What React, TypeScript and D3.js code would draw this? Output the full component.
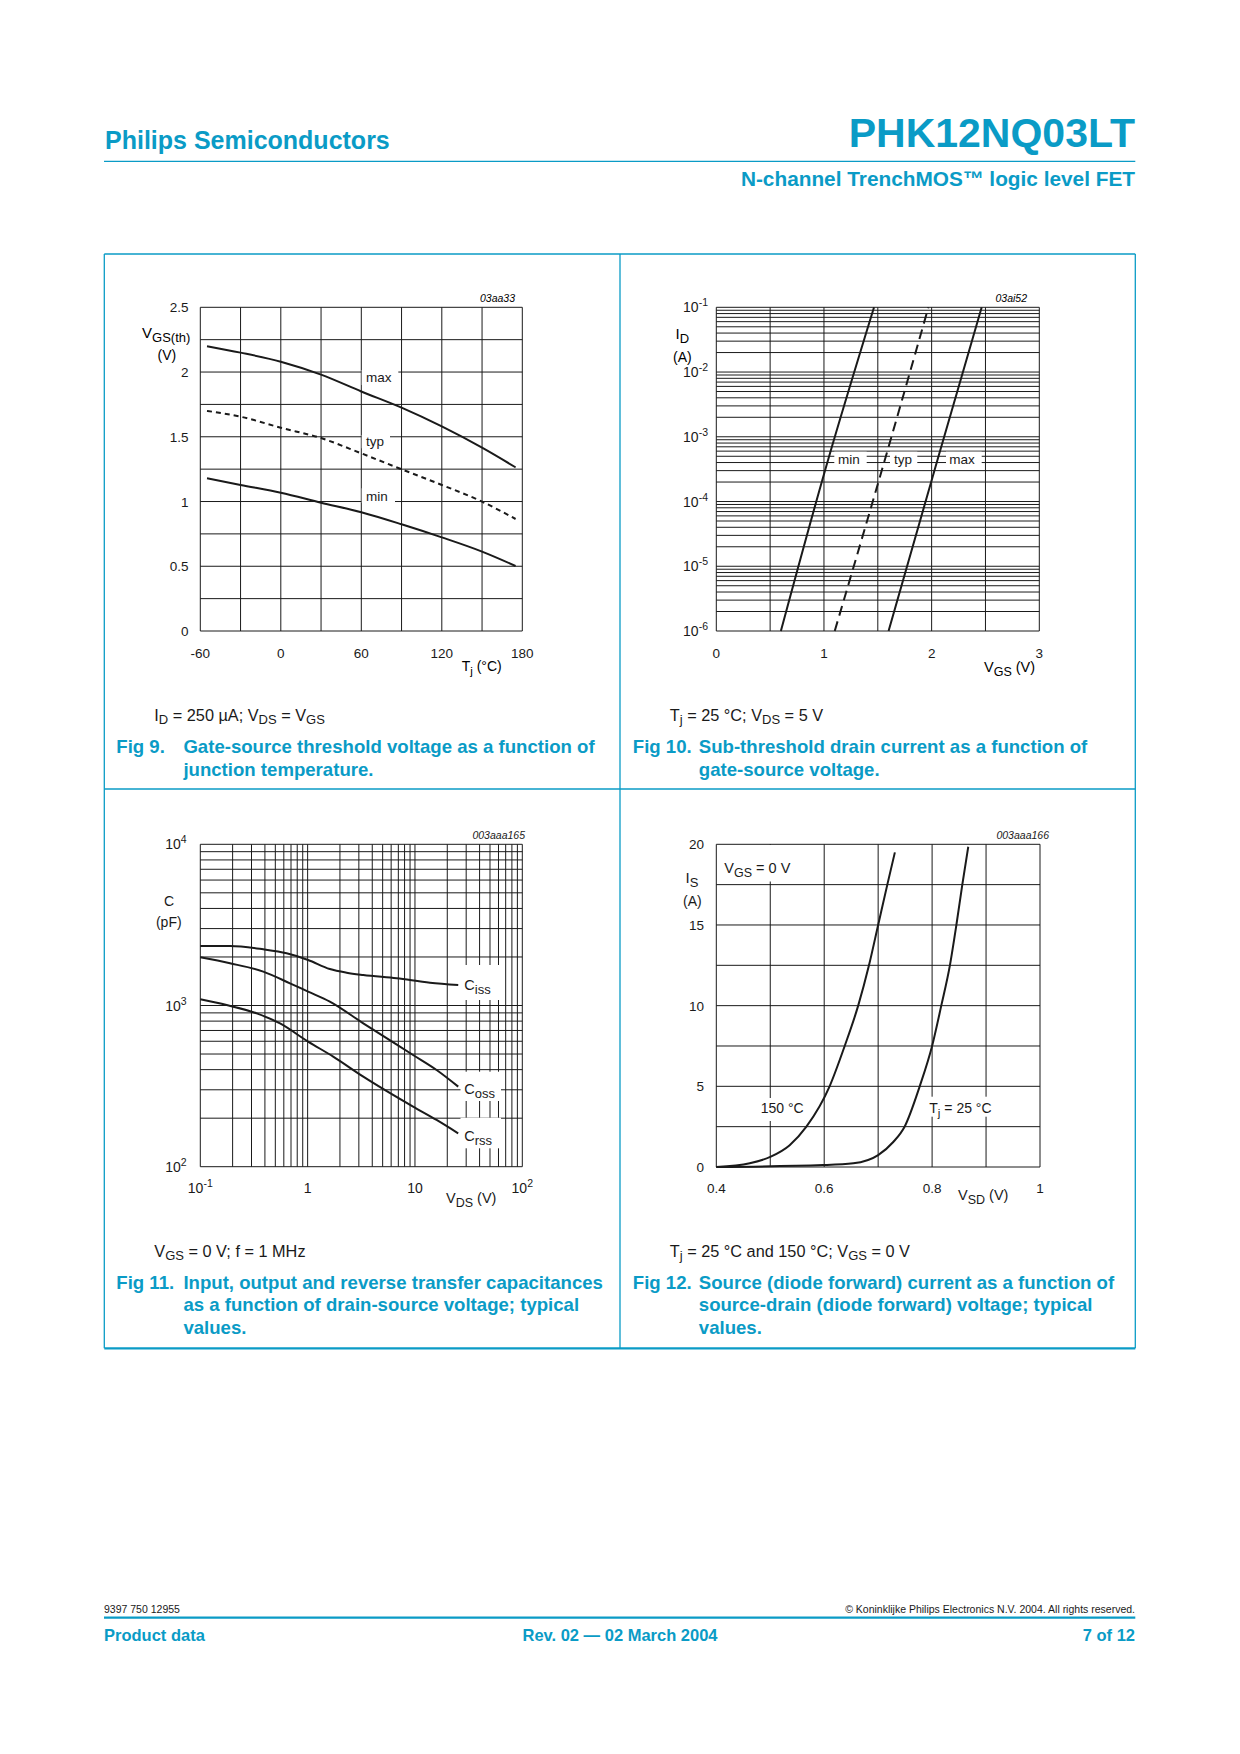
import React from 'react';
import * as d3 from 'd3';

const TEAL = '#0a9bc6';
const INK = '#1a1a1a';
const FONT = '"Liberation Sans", Arial, Helvetica, sans-serif';

// ---------- Fig 9 data ----------
const fig9Temp = [-55, -30, 0, 30, 60, 90, 120, 150, 175];
const fig9Max = [2.2, 2.15, 2.08, 1.98, 1.85, 1.725, 1.58, 1.416, 1.264];
const fig9Typ = [1.7, 1.655, 1.57, 1.49, 1.372, 1.249, 1.128, 0.999, 0.865];
const fig9Min = [1.18, 1.128, 1.068, 0.991, 0.917, 0.824, 0.723, 0.613, 0.502];
const fig9XTicks = [-60, 0, 60, 120, 180];
const fig9YTicks = [0, 0.5, 1, 1.5, 2, 2.5];

// ---------- Fig 10 data ----------
const fig10Id = [1e-6, 4.5e-4, 1e-1];
const fig10Min = [0.6, 1.04, 1.465];
const fig10Typ = [1.1, 1.567, 1.97];
const fig10Max = [1.6, 2.056, 2.465];
const fig10XTicks = [0, 1, 2, 3];
const fig10YExp = [-6, -5, -4, -3, -2, -1];

// ---------- Fig 11 data ----------
const fig11CissVds = [0.1, 0.189, 0.386, 0.637, 1.01, 1.61, 2.31, 3.3, 6.75, 13.8, 25.3];
const fig11Ciss = [2339, 2339, 2230, 2107, 1916, 1684, 1598, 1546, 1474, 1386, 1341];
const fig11CossVds = [0.1, 0.189, 0.386, 0.685, 1.01, 1.61, 3.3, 9.6, 15.9, 25.3];
const fig11Coss = [1990, 1828, 1623, 1373, 1219, 1057, 775, 493, 398, 314];
const fig11CrssVds = [0.1, 0.176, 0.335, 0.553, 1.01, 1.73, 3.3, 9.6, 15.9, 25.3];
const fig11Crss = [1092, 1006, 894, 774, 597, 482, 362, 236, 195, 161];
const fig11XTicks = [
  { v: 0.1, base: '10', exp: '-1' },
  { v: 1, base: '1', exp: '' },
  { v: 10, base: '10', exp: '' },
  { v: 100, base: '10', exp: '2' },
];
const fig11YExp = [2, 3, 4];

// ---------- Fig 12 data ----------
const fig12V150 = [0.4, 0.462, 0.501, 0.536, 0.567, 0.61, 0.638, 0.663, 0.683, 0.7, 0.717, 0.731];
const fig12I150 = [0, 0.23, 0.64, 1.35, 2.5, 5.0, 7.5, 10, 12.5, 15, 17.5, 19.5];
const fig12V25 = [0.4, 0.598, 0.654, 0.7, 0.728, 0.749, 0.777, 0.8, 0.817, 0.833, 0.845, 0.856, 0.867];
const fig12I25 = [0, 0.12, 0.23, 0.74, 1.55, 2.5, 5.0, 7.5, 10, 12.5, 15, 17.5, 19.85];
const fig12XTicks = [0.4, 0.6, 0.8, 1];
const fig12YTicks = [0, 5, 10, 15, 20];

const line = (xs: number[], ys: number[], sx: any, sy: any, curve: any = d3.curveMonotoneX) =>
  d3
    .line<number>()
    .x((_, i) => sx(xs[i]))
    .y((_, i) => sy(ys[i]))
    .curve(curve)(xs.map((_, i) => i)) || '';

const Grid = ({ xs, ys, sx, sy, x0, x1, y0, y1 }: any) => (
  <g stroke={INK} strokeWidth={1}>
    {xs.map((v: number, i: number) => (
      <line key={'v' + i} x1={sx(v)} x2={sx(v)} y1={y0} y2={y1} />
    ))}
    {ys.map((v: number, i: number) => (
      <line key={'h' + i} x1={x0} x2={x1} y1={sy(v)} y2={sy(v)} />
    ))}
  </g>
);

const Pow = ({ x, y, base, exp, anchor = 'end' }: any) => (
  <text x={x} y={y} textAnchor={anchor} fontSize={14}>
    {base}
    {exp ? (
      <tspan dy={-6} fontSize={10.5}>
        {exp}
      </tspan>
    ) : null}
  </text>
);

const Sub = ({ x, y, main, sub, rest = '', size = 14, subSize = 12, anchor = 'start' }: any) => (
  <text x={x} y={y} fontSize={size} textAnchor={anchor}>
    {main}
    <tspan dy={4} fontSize={subSize}>
      {sub}
    </tspan>
    {rest ? <tspan dy={-4}>{rest}</tspan> : null}
  </text>
);

function Fig9() {
  const sx = d3.scaleLinear().domain([-60, 180]).range([200.3, 522.3]);
  const sy = d3.scaleLinear().domain([0, 2.5]).range([631, 307.3]);
  const vgrid = d3.range(-60, 181, 30);
  const hgrid = d3.range(0, 2.51, 0.25);
  return (
    <g>
      <Grid xs={vgrid} ys={hgrid} sx={sx} sy={sy} x0={200.3} x1={522.3} y0={307.3} y1={631} />
      <rect x={361.7} y={370} width={36.6} height={15} fill="white" />
      <rect x={361.7} y={435} width={28.3} height={13.3} fill="white" />
      <rect x={361.7} y={488.3} width={33.3} height={14.4} fill="white" />
      <g fill="none" stroke={INK} strokeWidth={2}>
        <path d={line(fig9Temp, fig9Max, sx, sy)} />
        <path d={line(fig9Temp, fig9Typ, sx, sy)} strokeDasharray="5 4" />
        <path d={line(fig9Temp, fig9Min, sx, sy)} />
      </g>
      <g fontSize={13.5} fill={INK}>
        <text x={366} y={381.7}>max</text>
        <text x={366} y={445.7}>typ</text>
        <text x={366} y={500.7}>min</text>
        {fig9YTicks.map((t) => (
          <text key={t} x={188.5} y={sy(t) + 5} textAnchor="end">
            {String(t)}
          </text>
        ))}
        {fig9XTicks.map((t) => (
          <text key={t} x={sx(t)} y={657.7} textAnchor="middle">
            {String(t)}
          </text>
        ))}
      </g>
      <Sub x={461.7} y={670.7} main="T" sub="j" rest=" (°C)" size={14} subSize={11.5} />
      <Sub x={142} y={338.3} main="V" sub="GS(th)" size={15} subSize={13} />
      <text x={157.5} y={360} fontSize={14}>(V)</text>
      <text x={515} y={302} fontSize={10.5} fontStyle="italic" textAnchor="end">03aa33</text>
    </g>
  );
}

function Fig10() {
  const sx = d3.scaleLinear().domain([0, 3]).range([716.3, 1039.3]);
  const sy = d3.scaleLog().domain([1e-6, 1e-1]).range([631, 307.3]);
  const vgrid = d3.range(0, 3.01, 0.5);
  const hgrid: number[] = [];
  for (let d = -6; d <= -2; d++) for (let k = 1; k <= 9; k++) hgrid.push(k * Math.pow(10, d));
  hgrid.push(1e-1);
  return (
    <g>
      <Grid xs={vgrid} ys={hgrid} sx={sx} sy={sy} x0={716.3} x1={1039.3} y0={307.3} y1={631} />
      <rect x={834.3} y={451.7} width={32.4} height={15} fill="white" />
      <rect x={890} y={451.7} width={27.3} height={15} fill="white" />
      <rect x={946} y={451.7} width={35.7} height={15} fill="white" />
      <g fill="none" stroke={INK} strokeWidth={2}>
        <path d={line(fig10Min, fig10Id, sx, sy, d3.curveMonotoneY)} />
        <path d={line(fig10Typ, fig10Id, sx, sy, d3.curveMonotoneY)} strokeDasharray="10 6" />
        <path d={line(fig10Max, fig10Id, sx, sy, d3.curveMonotoneY)} />
      </g>
      <g fontSize={13.5} fill={INK}>
        <text x={838} y={464.3}>min</text>
        <text x={894} y={464.3}>typ</text>
        <text x={949.3} y={464.3}>max</text>
        {fig10XTicks.map((t) => (
          <text key={t} x={sx(t)} y={657.7} textAnchor="middle">
            {String(t)}
          </text>
        ))}
      </g>
      <g fill={INK}>
        {fig10YExp.map((e) => (
          <Pow key={e} x={708} y={sy(Math.pow(10, e)) + 5} base="10" exp={String(e)} />
        ))}
      </g>
      <Sub x={675.5} y={339} main="I" sub="D" size={15} subSize={13} />
      <text x={673} y={361.7} fontSize={14}>(A)</text>
      <Sub x={984} y={671.7} main="V" sub="GS" rest=" (V)" size={14.5} subSize={12.5} />
      <text x={1027} y={302} fontSize={10.5} fontStyle="italic" textAnchor="end">03ai52</text>
    </g>
  );
}

function Fig11() {
  const sx = d3.scaleLog().domain([0.1, 100]).range([200.3, 522.3]);
  const sy = d3.scaleLog().domain([100, 10000]).range([1166.7, 844.3]);
  const vgrid: number[] = [];
  for (let d = -1; d <= 1; d++) for (let k = 1; k <= 9; k++) vgrid.push(k * Math.pow(10, d));
  vgrid.push(100);
  const hgrid: number[] = [];
  for (let d = 2; d <= 3; d++) for (let k = 1; k <= 9; k++) hgrid.push(k * Math.pow(10, d));
  hgrid.push(10000);
  return (
    <g>
      <Grid xs={vgrid} ys={hgrid} sx={sx} sy={sy} x0={200.3} x1={522.3} y0={844.3} y1={1166.7} />
      <rect x={460.5} y={965} width={40.5} height={35} fill="white" />
      <rect x={460.5} y={1071.7} width={40.5} height={29.3} fill="white" />
      <rect x={460.5} y={1117.7} width={40.5} height={30.6} fill="white" />
      <g fill="none" stroke={INK} strokeWidth={2}>
        <path d={line(fig11CissVds, fig11Ciss, sx, sy)} />
        <path d={line(fig11CossVds, fig11Coss, sx, sy)} />
        <path d={line(fig11CrssVds, fig11Crss, sx, sy)} />
      </g>
      <g fill={INK}>
        <Sub x={464.3} y={990} main="C" sub="iss" size={14.5} subSize={13} />
        <Sub x={464.3} y={1094} main="C" sub="oss" size={14.5} subSize={13} />
        <Sub x={464.3} y={1140.7} main="C" sub="rss" size={14.5} subSize={13} />
        {fig11YExp.map((e) => (
          <Pow key={e} x={186.7} y={sy(Math.pow(10, e)) + 5} base="10" exp={String(e)} />
        ))}
        {fig11XTicks.map((t) => (
          <Pow key={t.v} x={sx(t.v)} y={1193.3} base={t.base} exp={t.exp} anchor="middle" />
        ))}
        <Sub x={446} y={1203.3} main="V" sub="DS" rest=" (V)" size={14.5} subSize={12.5} />
        <text x={169} y={906} fontSize={14} textAnchor="middle">C</text>
        <text x={168.8} y={926.7} fontSize={14} textAnchor="middle">(pF)</text>
        <text x={525} y={839} fontSize={10.5} fontStyle="italic" textAnchor="end">003aaa165</text>
      </g>
    </g>
  );
}

function Fig12() {
  const sx = d3.scaleLinear().domain([0.4, 1.0]).range([716.3, 1040]);
  const sy = d3.scaleLinear().domain([0, 20]).range([1167, 844.3]);
  const vgrid = d3.range(0.4, 1.001, 0.1);
  const hgrid = d3.range(0, 20.01, 2.5);
  return (
    <g>
      <Grid xs={vgrid} ys={hgrid} sx={sx} sy={sy} x0={716.3} x1={1040} y0={844.3} y1={1167} />
      <rect x={717} y={845} width={76.5} height={36.5} fill="white" />
      <rect x={757} y={1098} width={49} height={23} fill="white" />
      <rect x={925} y={1096.7} width={72} height={20} fill="white" />
      <g fill="none" stroke={INK} strokeWidth={2}>
        <path d={line(fig12V150, fig12I150, sx, sy)} />
        <path d={line(fig12V25, fig12I25, sx, sy)} />
      </g>
      <g fill={INK} fontSize={13.5}>
        {fig12YTicks.map((t) => (
          <text key={t} x={704} y={sy(t) + 5} textAnchor="end">
            {String(t)}
          </text>
        ))}
        {fig12XTicks.map((t) => (
          <text key={t} x={sx(t)} y={1192.7} textAnchor="middle">
            {String(t)}
          </text>
        ))}
        <Sub x={958} y={1200} main="V" sub="SD" rest=" (V)" size={14.5} subSize={12.5} />
        <Sub x={685.5} y={883.3} main="I" sub="S" size={15} subSize={13} />
        <text x={683} y={906} fontSize={14}>(A)</text>
        <Sub x={724.3} y={872.7} main="V" sub="GS" rest=" = 0 V" size={14.5} subSize={12.5} />
        <text x={760.7} y={1113.3} fontSize={14}>150 °C</text>
        <Sub x={929.3} y={1113.3} main="T" sub="j" rest=" = 25 °C" size={14} subSize={11.5} />
        <text x={1049} y={839} fontSize={10.5} fontStyle="italic" textAnchor="end">003aaa166</text>
      </g>
    </g>
  );
}

const Caption = ({ x, xt, y, fig, lines }: any) => (
  <g fill={TEAL} fontWeight="bold" fontSize={18.6}>
    <text x={x} y={y}>{fig}</text>
    {lines.map((l: string, i: number) => (
      <text key={i} x={xt} y={y + i * 22.8}>
        {l}
      </text>
    ))}
  </g>
);

export default function App() {
  return (
    <svg
      width={1240}
      height={1754}
      viewBox="0 0 1240 1754"
      style={{ position: 'absolute', left: 0, top: 0, background: 'white' }}
      fontFamily={FONT}
    >
      <rect x={0} y={0} width={1240} height={1754} fill="white" />
      {/* header */}
      <text x={105} y={149.3} fill={TEAL} fontWeight="bold" fontSize={25}>
        Philips Semiconductors
      </text>
      <text x={1135} y={146.7} fill={TEAL} fontWeight="bold" fontSize={41} textAnchor="end">
        PHK12NQ03LT
      </text>
      <line x1={104} x2={1135.3} y1={161.3} y2={161.3} stroke={TEAL} strokeWidth={1.3} />
      <text x={1135} y={186} fill={TEAL} fontWeight="bold" fontSize={20.8} textAnchor="end">
        N-channel TrenchMOS™ logic level FET
      </text>

      {/* frame */}
      <g stroke={TEAL} strokeWidth={1.3} fill="none">
        <line x1={104.3} x2={1135.3} y1={254} y2={254} />
        <line x1={104.3} x2={104.3} y1={254} y2={1348.3} />
        <line x1={1135.3} x2={1135.3} y1={254} y2={1348.3} />
        <line x1={620} x2={620} y1={254} y2={1348.3} />
        <line x1={104.3} x2={1135.3} y1={789} y2={789} />
        <line x1={104.3} x2={1135.3} y1={1348.3} y2={1348.3} strokeWidth={2.2} />
      </g>

      <Fig9 />
      <Fig10 />
      <Fig11 />
      <Fig12 />

      {/* conditions */}
      <g fill={INK}>
        <text x={154.3} y={720.7} fontSize={16.3}>
          I<tspan dy={3.5} fontSize={13}>D</tspan>
          <tspan dy={-3.5}> = 250 µA; V</tspan>
          <tspan dy={3.5} fontSize={13}>DS</tspan>
          <tspan dy={-3.5}> = V</tspan>
          <tspan dy={3.5} fontSize={13}>GS</tspan>
        </text>
        <text x={669.8} y={720.7} fontSize={16.3}>
          T<tspan dy={3.5} fontSize={13}>j</tspan>
          <tspan dy={-3.5}> = 25 °C; V</tspan>
          <tspan dy={3.5} fontSize={13}>DS</tspan>
          <tspan dy={-3.5}> = 5 V</tspan>
        </text>
        <text x={154.3} y={1256.7} fontSize={16.3}>
          V<tspan dy={3.5} fontSize={13}>GS</tspan>
          <tspan dy={-3.5}> = 0 V; f = 1 MHz</tspan>
        </text>
        <text x={669.8} y={1256.7} fontSize={16.3}>
          T<tspan dy={3.5} fontSize={13}>j</tspan>
          <tspan dy={-3.5}> = 25 °C and 150 °C; V</tspan>
          <tspan dy={3.5} fontSize={13}>GS</tspan>
          <tspan dy={-3.5}> = 0 V</tspan>
        </text>
      </g>

      {/* captions */}
      <Caption x={116.3} xt={183.4} y={753.3} fig="Fig 9." lines={['Gate-source threshold voltage as a function of', 'junction temperature.']} />
      <Caption x={632.8} xt={698.8} y={753.3} fig="Fig 10." lines={['Sub-threshold drain current as a function of', 'gate-source voltage.']} />
      <Caption
        x={116.3}
        xt={183.4}
        y={1288.5}
        fig="Fig 11."
        lines={['Input, output and reverse transfer capacitances', 'as a function of drain-source voltage; typical', 'values.']}
      />
      <Caption
        x={632.8}
        xt={698.8}
        y={1288.5}
        fig="Fig 12."
        lines={['Source (diode forward) current as a function of', 'source-drain (diode forward) voltage; typical', 'values.']}
      />

      {/* footer */}
      <text x={104} y={1612.7} fontSize={10.5} fill={INK}>9397 750 12955</text>
      <text x={1135} y={1612.7} fontSize={10.5} fill={INK} textAnchor="end">
        © Koninklijke Philips Electronics N.V. 2004. All rights reserved.
      </text>
      <line x1={104} x2={1135.3} y1={1617.7} y2={1617.7} stroke={TEAL} strokeWidth={2.2} />
      <g fill={TEAL} fontWeight="bold" fontSize={16.5}>
        <text x={104} y={1640.7}>Product data</text>
        <text x={620} y={1640.7} textAnchor="middle">Rev. 02 — 02 March 2004</text>
        <text x={1135} y={1640.7} textAnchor="end">7 of 12</text>
      </g>
    </svg>
  );
}
